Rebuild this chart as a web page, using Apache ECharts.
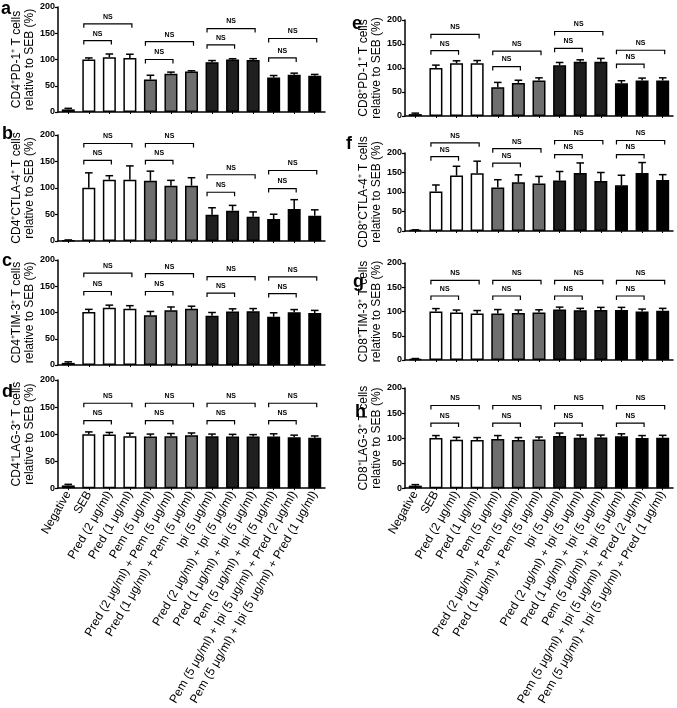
<!DOCTYPE html>
<html><head><meta charset="utf-8">
<script src="https://cdn.jsdelivr.net/npm/echarts@6/dist/echarts.min.js"></script>
<style>html,body{margin:0;padding:0;background:#fff}#c{width:677px;height:708px}</style>
</head><body><div id="c"></div>
<script>
const categories = ['Negative','SEB','Pred (2 μg/ml)','Pred (1 μg/ml)','Pem (5 μg/ml)',
  'Pred (2 μg/ml) + Pem (5 μg/ml)','Pred (1 μg/ml) + Pem (5 μg/ml)','Ipi (5 μg/ml)',
  'Pred (2 μg/ml) + Ipi (5 μg/ml)','Pred (1 μg/ml) + Ipi (5 μg/ml)','Pem (5 μg/ml) + Ipi (5 μg/ml)',
  'Pem (5 μg/ml) + Ipi (5 μg/ml) + Pred (2 μg/ml)','Pem (5 μg/ml) + Ipi (5 μg/ml) + Pred (1 μg/ml)'];
const yTicks = [0, 50, 100, 150, 200];
const panelLetters = ['a','b','c','d','e','f','g','h'];
const yTitles = [
  'CD4⁺PD-1⁺ T cells\nrelative to SEB (%)',
  'CD4⁺CTLA-4⁺ T cells\nrelative to SEB (%)',
  'CD4⁺TIM-3⁺ T cells\nrelative to SEB (%)',
  'CD4⁺LAG-3⁺ T cells\nrelative to SEB (%)',
  'CD8⁺PD-1⁺ T cells\nrelative to SEB (%)',
  'CD8⁺CTLA-4⁺ T cells\nrelative to SEB (%)',
  'CD8⁺TIM-3⁺ T cells\nrelative to SEB (%)',
  'CD8⁺LAG-3⁺ T cells\nrelative to SEB (%)'];
const bracketLabel = 'NS';

// means and SEM-like error (upper) per panel
const aMean = [5,100,104.5,103,62,73,77,95,100,99,65.5,71,69];
const aErr  = [2,3,6,7,8,3,1.5,3,1.5,2.6,4,3,2.6];
const bMean = [1,100.6,115.7,115.7,113.8,104.4,104.4,49.7,57.2,45.9,41.5,60.4,47.8];
const bErr  = [1,28,7.5,26,18,10,15,13,10,9,9,17.6,11];
const cMean = [4,101,109,107,95,104.5,107,94,102,102.5,92,100.6,99];
const cErr  = [2,5,5,6,7,6,5,6,5,5,7.5,5,5];
const dMean = [5,99.5,99,96,95.5,96,98,96,95.5,95.5,95.5,94,93];
const dErr  = [2,4.5,4,5.5,4.5,5,4,4,4,3.5,5,4,3.5];
const eMean = [4,100,110,110,60,69,74,105.5,113,113,68,74,74];
const eErr  = [2,6,5,5.5,10,5.5,5.5,6,4,7,5.5,5,5.5];
const fMean = [2,101,142,148,111.5,125,122,129.6,148.5,128,117,148.5,130.5];
const fErr  = [1,17,24,31,20,19,18,23,26,22,26,27,14];
const gMean = [2,100,98,96,96,97,98,104,102.5,103,103,100,101.5];
const gErr  = [1,6,5,6,8,6,5.5,5,4,5.5,5.5,5,5];
const hMean = [5,100,96.5,96,98,96,97,104,100.5,101,103.5,100,100.5];
const hErr  = [2,5,5,5,7,5,5,6,5.5,5,5,5,5];

// NS bracket heights per group: [long bracket, short bracket] x 4 groups
const aBrk = [168,136, 134,100, 159,128, 140,103];
const bBrk = [184,152, 184,152, 125,92, 133,99];
const cBrk = [175,140, 174,140, 168.5,137, 168,136];
const dBrk = [157,125, 157,125, 157,125, 157,125];
const eBrk = [170,136, 135,103, 176,141, 137,108];
const fBrk = [226,190.6, 211,174, 232,196, 232,196];
const gBrk = [164,132, 164,132, 164,132, 164,132];
const hBrk = [165,130, 165,130, 165,130, 165,130];

const means = [aMean,bMean,cMean,dMean,eMean,fMean,gMean,hMean];
const errs  = [aErr,bErr,cErr,dErr,eErr,fErr,gErr,hErr];
const brks  = [aBrk,bBrk,cBrk,dBrk,eBrk,fBrk,gBrk,hBrk];

// styles / layout
const barColors = ['#000','#fff','#fff','#fff','#6e6e6e','#6e6e6e','#6e6e6e','#1f1f1f','#1f1f1f','#1f1f1f','#000','#000','#000'];
const grids = [
  {left:58, top:7,   width:267, height:105},
  {left:58, top:135, width:267, height:106},
  {left:58, top:260, width:267, height:105},
  {left:58, top:380, width:267, height:118},
  {left:405, top:20,  width:268, height:96},
  {left:405, top:153, width:268, height:78},
  {left:405, top:263, width:268, height:97},
  {left:405, top:388, width:268, height:105}
];
const letterPos = [[1,9],[2,134],[2,261],[2,392],[352,24],[346,144],[353,282],[355,412]];
const FONT = '"Liberation Sans", Arial, Helvetica, sans-serif';

function renderErr(params, api) {
  const x = api.value(0), m = api.value(1), e = api.value(2);
  const p0 = api.coord([x, m]), p1 = api.coord([x, m + e]);
  const cw = 3.8;
  return {type:'group', children:[
    {type:'line', shape:{x1:p0[0], y1:p0[1], x2:p1[0], y2:p1[1]}, style:{stroke:'#000', lineWidth:1.5}},
    {type:'line', shape:{x1:p1[0]-cw, y1:p1[1], x2:p1[0]+cw, y2:p1[1]}, style:{stroke:'#000', lineWidth:1.5}}
  ]};
}
function renderBracket(params, api) {
  const a = api.value(0), v = api.value(1), b = api.value(2);
  const p0 = api.coord([a, v]), p1 = api.coord([b, v]);
  const x0 = p0[0] - 5, x1 = p1[0] + 2, y = p0[1];
  return {type:'group', children:[
    {type:'polyline', shape:{points:[[x0,y+4],[x0,y],[x1,y],[x1,y+4]]}, style:{stroke:'#000', lineWidth:1.2, fill:'none'}},
    {type:'text', style:{text:bracketLabel, x:(x0+x1)/2, y:y-7, align:'center', verticalAlign:'middle',
      fontSize:7, fontWeight:'bold', fontFamily:FONT, fill:'#000'}}
  ]};
}

const xAxis = [], yAxis = [], series = [], graphic = [];
grids.forEach((g, i) => {
  const bottom = (i === 3 || i === 7);
  xAxis.push({
    type:'category', gridIndex:i, data:categories,
    axisLine:{lineStyle:{color:'#000', width:1.5}},
    axisTick:{show:true, alignWithLabel:true, length:2, lineStyle:{color:'#000', width:1}},
    axisLabel:{show:bottom, rotate:60, interval:0, fontSize:12, color:'#000', fontFamily:FONT, margin:4}
  });
  yAxis.push({
    type:'value', gridIndex:i, min:0, max:200, interval:50,
    axisLine:{show:true, lineStyle:{color:'#000', width:1.5}},
    axisTick:{show:true, length:3, lineStyle:{color:'#000', width:1.2}, customValues:yTicks},
    axisLabel:{fontSize:9, fontWeight:'bold', color:'#000', fontFamily:FONT, margin:3, customValues:yTicks},
    splitLine:{show:false},
    name:yTitles[i], nameLocation:'middle', nameRotate:90, nameGap: i < 4 ? 20 : 17,
    nameTextStyle:{fontSize:12, color:'#000', fontFamily:FONT, lineHeight:13}
  });
  series.push({
    type:'bar', xAxisIndex:i, yAxisIndex:i, barWidth:13,
    data: means[i].map((v, k) => ({value:v, itemStyle:{color:barColors[k], borderColor:'#000', borderWidth:1.5}})),
    silent:true
  });
  series.push({
    type:'custom', xAxisIndex:i, yAxisIndex:i, renderItem:renderErr, clip:false, silent:true, z:3,
    data: means[i].map((v, k) => [k, v, errs[i][k]])
  });
  const bd = [];
  for (let gi = 0; gi < 4; gi++) {
    const first = 1 + gi*3;
    bd.push([first, brks[i][gi*2], first + 2]);
    bd.push([first, brks[i][gi*2+1], first + 1]);
  }
  series.push({
    type:'custom', xAxisIndex:i, yAxisIndex:i, renderItem:renderBracket, clip:false, silent:true, z:4,
    data: bd
  });
  graphic.push({type:'text', left:letterPos[i][0], top:letterPos[i][1]-9,
    style:{text:panelLetters[i], fontSize:18, fontWeight:'bold', fontFamily:FONT, fill:'#000'}});
});

const chart = echarts.init(document.getElementById('c'), null, {renderer:'canvas'});
chart.setOption({
  animation:false, backgroundColor:'#fff',
  grid: grids.map(g => Object.assign({containLabel:false}, g)),
  xAxis, yAxis, series, graphic
});
</script></body></html>
